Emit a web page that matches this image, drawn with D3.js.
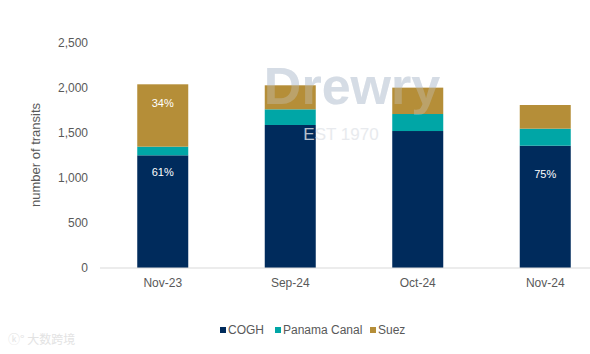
<!DOCTYPE html>
<html>
<head>
<meta charset="utf-8">
<script src="https://cdn.jsdelivr.net/npm/d3@7"></script>
<style>
  body { margin: 0; background: #fff; }
  svg { display: block; font-family: "Liberation Sans", Arial, sans-serif; }
</style>
</head>
<body>
<div class="chart"></div>
<script>
// chart data
const months = ["Nov-23", "Sep-24", "Oct-24", "Nov-24"];
const routes = ["COGH", "Panama Canal", "Suez"];
const cogh = [1252, 1589, 1522, 1359];
const panama = [96, 174, 189, 189];
const suez = [693, 267, 293, 263];
const yTicks = [0, 500, 1000, 1500, 2000, 2500];
// share labels: [month index, route, text]
const shareLabels = [
  [0, "Suez", "34%"],
  [0, "COGH", "61%"],
  [3, "COGH", "75%"]
];

const colors = { "COGH": "#002B5C", "Panama Canal": "#00A6A6", "Suez": "#B58E38" };

const width = 590;
const height = 354;

const svg = d3.select(".chart")
    .append("svg")
    .attr("width", width)
    .attr("height", height);

const rows = months.map((m, i) => ({
  month: m, "COGH": cogh[i], "Panama Canal": panama[i], "Suez": suez[i]
}));
const stacked = d3.stack().keys(routes)(rows);

const x = d3.scaleBand()
    .domain(months)
    .range([99, 609])
    .paddingInner(0.6)
    .paddingOuter(0.3);

const y = d3.scaleLinear()
    .domain([0, 2500])
    .range([268, 43]);

// watermark behind bars
svg.append("text")
    .attr("x", 352)
    .attr("y", 104)
    .attr("text-anchor", "middle")
    .style("font-size", "52px")
    .style("font-weight", "bold")
    .attr("fill", "#d3dae4")
    .attr("opacity", 0.8)
    .text("Drewry");

// y axis labels
svg.append("g")
    .selectAll("text")
    .data(yTicks)
    .enter()
    .append("text")
    .attr("x", 88)
    .attr("y", d => y(d))
    .attr("dy", "0.35em")
    .attr("text-anchor", "end")
    .attr("fill", "#595959")
    .style("font-size", "12px")
    .text(d => d3.format(",")(d));

// y axis title
svg.append("text")
    .attr("transform", "translate(40,155) rotate(-90)")
    .attr("text-anchor", "middle")
    .attr("fill", "#595959")
    .style("font-size", "13px")
    .text("number of transits");

// stacked bars
svg.append("g")
    .selectAll("g")
    .data(stacked)
    .enter()
    .append("g")
    .attr("fill", d => colors[d.key])
    .selectAll("rect")
    .data(d => d)
    .enter()
    .append("rect")
    .attr("x", d => x(d.data.month))
    .attr("y", d => y(d[1]))
    .attr("width", x.bandwidth())
    .attr("height", d => y(d[0]) - y(d[1]));

// translucent watermark over bars
svg.append("text")
    .attr("x", 352)
    .attr("y", 104)
    .attr("text-anchor", "middle")
    .style("font-size", "52px")
    .style("font-weight", "bold")
    .attr("fill", "#c9d2de")
    .attr("opacity", 0.3)
    .text("Drewry");

svg.append("text")
    .attr("x", 341)
    .attr("y", 140)
    .attr("text-anchor", "middle")
    .style("font-size", "17px")
    .attr("fill", "#e3e6ea")
    .attr("opacity", 0.8)
    .text("EST 1970");

// baseline
svg.append("line")
    .attr("x1", 100)
    .attr("x2", 590)
    .attr("y1", y(0))
    .attr("y2", y(0))
    .attr("stroke", "#d9d9d9")
    .attr("stroke-width", 1);

// x labels
svg.append("g")
    .selectAll("text")
    .data(months)
    .enter()
    .append("text")
    .attr("x", d => x(d) + x.bandwidth() / 2)
    .attr("y", 287)
    .attr("text-anchor", "middle")
    .attr("fill", "#595959")
    .style("font-size", "12px")
    .text(d => d);

// share labels inside bars (offset from segment top)
const labelOffset = [19, 17, 28];
svg.append("g")
    .selectAll("text")
    .data(shareLabels)
    .enter()
    .append("text")
    .attr("x", d => x(months[d[0]]) + x.bandwidth() / 2)
    .attr("y", (d, i) => {
      const seg = stacked[routes.indexOf(d[1])][d[0]];
      return y(seg[1]) + labelOffset[i];
    })
    .attr("dy", "0.35em")
    .attr("text-anchor", "middle")
    .attr("fill", "#ffffff")
    .style("font-size", "11px")
    .text(d => d[2]);

// legend
const legendX = [220, 275, 370];
const legend = svg.append("g")
    .selectAll("g")
    .data(routes)
    .enter()
    .append("g")
    .attr("transform", (d, i) => `translate(${legendX[i]},330)`);

legend.append("rect")
    .attr("x", 0)
    .attr("y", -3)
    .attr("width", 6)
    .attr("height", 6)
    .attr("fill", d => colors[d]);

legend.append("text")
    .attr("x", 8)
    .attr("dy", "0.35em")
    .attr("fill", "#595959")
    .style("font-size", "12px")
    .text(d => d);

// source logo watermark
svg.append("text")
    .attr("x", 8)
    .attr("y", 344)
    .attr("fill", "#e3e3e3")
    .style("font-size", "12px")
    .style("font-family", "'Noto Sans CJK SC', sans-serif")
    .text("ⓚ° 大数跨境");
</script>
</body>
</html>
